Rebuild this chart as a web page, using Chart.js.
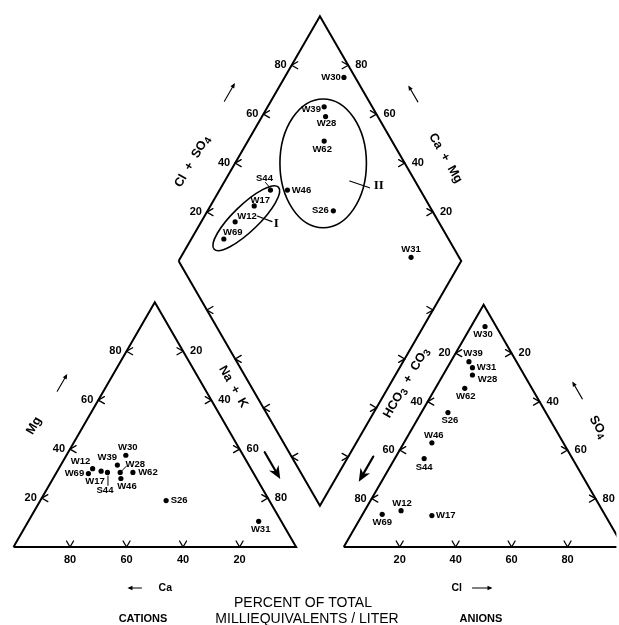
<!DOCTYPE html>
<html>
<head>
<meta charset="utf-8">
<script src="https://cdn.jsdelivr.net/npm/chart.js@4/dist/chart.umd.min.js"></script>
<style>
  html, body { margin: 0; padding: 0; background: #fff; }
  #wrap { width: 619px; height: 625px; }
</style>
</head>
<body>
<div id="wrap"><canvas id="piper" width="619" height="625"></canvas></div>
<script>
// Water samples
const samples = ['W12', 'W17', 'W28', 'W30', 'W31', 'W39', 'W46', 'W62', 'W69', 'S26', 'S44'];
// Cations, percent of total milliequivalents per liter
const calcium         = [56, 53.5, 47, 41.5, 8, 46.5, 48, 42.5, 58.5, 36.5, 51.5];
const magnesium       = [32, 31, 30.5, 37.5, 10.5, 33.5, 28, 30.5, 30, 19, 30.5];
const sodiumPotassium = [12, 15.5, 22.5, 21, 81.5, 20, 24, 27, 11.5, 44.5, 18];
// Anions, percent of total milliequivalents per liter
const bicarbonate = [72, 62, 18.5, 4, 17, 17, 47, 24, 79.5, 35, 53];
const sulfate     = [15, 13, 71, 91, 74, 76.5, 43, 65.5, 13.5, 55.5, 36.5];
const chloride    = [13, 25, 10.5, 5, 9, 6.5, 10, 10.5, 7, 9.5, 10.5];
// Graduations on every side
const tickValues = [20, 40, 60, 80];

// ---- layout of the trilinear frames (plot units, triangle side = 100) ----
const SIDE = 100, GAP = 16.85, ANION_SIDE = 99;
const H = Math.sqrt(3) / 2;
const PX_PER_UNIT = 2.85, ORIGIN_X = 11, ORIGIN_Y = 549, W = 619, HT = 625;
const cationFrame = { x0: 0, side: SIDE };
const anionFrame = { x0: SIDE + GAP, side: ANION_SIDE };
const dBottom = { x: SIDE + GAP / 2, y: GAP / 2 * Math.sqrt(3) };
const dLeft = { x: dBottom.x - SIDE / 2, y: dBottom.y + SIDE * H };

// right = share toward the right corner, top = share toward the apex
function ternary(frame, right, top) {
  return { x: frame.x0 + frame.side * (right + top / 2) / 100, y: frame.side * H * top / 100 };
}
// n = Na + K share, a = Cl + SO4 share
function diamond(n, a) {
  return { x: dLeft.x + (a + n) / 100 * SIDE / 2, y: dLeft.y + (a - n) / 100 * SIDE * H };
}

const C0 = ternary(cationFrame, 0, 0), C1 = ternary(cationFrame, 100, 0), C2 = ternary(cationFrame, 0, 100);
const A0 = ternary(anionFrame, 0, 0), A1 = ternary(anionFrame, 100, 0), A2 = ternary(anionFrame, 0, 100);
const DL = diamond(0, 0), DT = diamond(0, 100), DR = diamond(100, 100), DB = diamond(100, 0);
const cCent = ternary(cationFrame, 33.3, 33.3), aCent = ternary(anionFrame, 33.3, 33.3), dCent = diamond(50, 50);

const cationPts = samples.map((s, i) => ternary(cationFrame, sodiumPotassium[i], magnesium[i]));
const anionPts = samples.map((s, i) => ternary(anionFrame, chloride[i], sulfate[i]));
const diamondPts = samples.map((s, i) => diamond(sodiumPotassium[i], chloride[i] + sulfate[i]));

// label placement around each dot, in pixels
const labelOffsets = {
  cation: { W30: [2, -8], W39: [-10, -8], W28: [15, -8], W62: [15, 0], W46: [6, 7.5], W12: [-12, -7],
            W69: [-14, 0], W17: [-6, 10], S44: [-2.5, 18], S26: [13, 0], W31: [2, 8] },
  anion: { W30: [-2, 7.5], W39: [4, -8], W31: [14, 0], W28: [15, 4], W62: [1, 8], S26: [2, 8],
           W46: [2, -7], S44: [0, 9], W12: [1, -7], W69: [0, 8.5], W17: [14, 0] },
  diamond: { W30: [-13, 0], W39: [-13, 3], W28: [1, 7], W62: [-2, 8], W46: [14, 0], S26: [-13, 0],
             S44: [-6, -12], W17: [6, -6], W12: [12, -5.5], W69: [9, -7], W31: [0, -8] }
};
const leaders = {
  cation: { W28: [[1.5, -1.5], [6, -6]], S44: [[0.5, 3.5], [0.5, 13]] },
  anion: {},
  diamond: { S44: [[-5, -7.5], [-0.8, -2.8]] }
};

// sample groups outlined on the diamond
const groups = [
  { name: 'I', n: 15.2, a: 32.7, rx: 15.8, ry: 4.6, rot: -44,
    label: { n: 26.9, a: 42.3 }, leader: [{ n: 18.6, a: 37.0 }, { n: 25.0, a: 41.1 }] },
  { name: 'II', n: 31.2, a: 71.1, rx: 15.3, ry: 22.8, rot: 0,
    label: { n: 55.5, a: 86.1 }, leader: [{ n: 44.2, a: 76.9 }, { n: 52.6, a: 82.5 }] }
];

const FONT = '"Liberation Sans", Arial, Helvetica, sans-serif';

const edges = [
  { a: C1, b: C0, c: cCent, label: 'below' },
  { a: C0, b: C2, c: cCent, label: 'left' },
  { a: C2, b: C1, c: cCent, label: 'right' },
  { a: A0, b: A1, c: aCent, label: 'below' },
  { a: A2, b: A0, c: aCent, label: 'left' },
  { a: A2, b: A1, c: aCent, label: 'right' },
  { a: DL, b: DT, c: dCent, label: 'left' },
  { a: DR, b: DT, c: dCent, label: 'right' },
  { a: DL, b: DB, c: dCent, label: null },
  { a: DR, b: DB, c: dCent, label: null }
];

const titles = [
  { edge: [C0, C2, cCent], t: 0.408, off: 42.8, rot: -60, parts: [['Mg']] },
  { edge: [DL, DB, dCent], t: 0.482, off: 15.5, rot: 60, parts: [['Na  +  K']] },
  { edge: [DL, DT, dCent], t: 0.329, off: 38, rot: -60, parts: [['Cl  +  SO'], ['4', 1]] },
  { edge: [DT, DR, dCent], t: 0.657, off: 37.9, rot: 60, parts: [['Ca  +  Mg']] },
  { edge: [DR, DB, dCent], t: 0.471, off: 13.2, rot: -60, parts: [['HCO'], ['3', 1], ['  +  CO'], ['3', 1]] },
  { edge: [A2, A1, aCent], t: 0.583, off: 38.1, rot: 60, parts: [['SO'], ['4', 1]] },
  { edge: [C0, C1, cCent], t: 0.537, off: 41, rot: 0, parts: [['Ca']], size: 10.5 },
  { edge: [A0, A1, aCent], t: 0.404, off: 41, rot: 0, parts: [['Cl']], size: 10.5 }
];

const arrows = [
  { edge: [C0, C2, cCent], t: 0.59, off: 40, len: 20, dir: 1 },
  { edge: [DL, DT, dCent], t: 0.608, off: 40.3, len: 21, dir: 1 },
  { edge: [DT, DR, dCent], t: 0.402, off: 42, len: 19, dir: -1 },
  { edge: [A2, A1, aCent], t: 0.432, off: 38.4, len: 20, dir: -1 },
  { edge: [DL, DB, dCent], t: 0.793, off: 21, len: 31, dir: 1, bold: true },
  { edge: [DR, DB, dCent], t: 0.806, off: 21.6, len: 29, dir: 1, bold: true },
  { edge: [C0, C1, cCent], t: 0.428, off: 41, len: 14, dir: -1 },
  { edge: [A0, A1, aCent], t: 0.496, off: 41, len: 20, dir: 1 }
];

const decor = {
  id: 'piperDecor',
  afterDatasetsDraw(chart) {
    const ctx = chart.ctx, xs = chart.scales.x, ys = chart.scales.y;
    const P = u => ({ x: xs.getPixelForValue(u.x), y: ys.getPixelForValue(u.y) });
    const unitPx = xs.getPixelForValue(1) - xs.getPixelForValue(0);

    function geom(a, b, c) {
      const pa = P(a), pb = P(b), pc = P(c);
      const dx = pb.x - pa.x, dy = pb.y - pa.y, len = Math.hypot(dx, dy);
      const ux = dx / len, uy = dy / len;
      let nx = -uy, ny = ux;
      const mx = (pa.x + pb.x) / 2, my = (pa.y + pb.y) / 2;
      if ((pc.x - mx) * nx + (pc.y - my) * ny > 0) { nx = -nx; ny = -ny; }
      return { ux, uy, nx, ny, at(t, off = 0) { return { x: pa.x + dx * t + nx * off, y: pa.y + dy * t + ny * off }; } };
    }

    ctx.save();
    ctx.strokeStyle = '#000';
    ctx.fillStyle = '#000';
    ctx.lineCap = 'round';

    // graduation chevrons and their numbers
    const arm = 7, s30 = 0.5, c30 = Math.sqrt(3) / 2;
    edges.forEach(e => {
      const g = geom(e.a, e.b, e.c);
      tickValues.forEach(v => {
        const p = g.at(v / 100);
        ctx.lineWidth = 1.3;
        ctx.beginPath();
        if (Math.abs(g.uy) < 0.01) {
          const sy = -Math.sign(g.ny);
          ctx.moveTo(p.x - arm * s30, p.y + sy * arm * c30);
          ctx.lineTo(p.x, p.y);
          ctx.lineTo(p.x + arm * s30, p.y + sy * arm * c30);
        } else {
          const sx = -Math.sign(g.nx);
          ctx.moveTo(p.x + sx * arm * c30, p.y - arm * s30);
          ctx.lineTo(p.x, p.y);
          ctx.lineTo(p.x + sx * arm * c30, p.y + arm * s30);
        }
        ctx.stroke();
        if (!e.label) return;
        ctx.font = 'bold 11px ' + FONT;
        ctx.textBaseline = 'middle';
        if (e.label === 'below') { ctx.textAlign = 'center'; ctx.fillText(String(v), p.x, p.y + 12.5); }
        else if (e.label === 'left') { ctx.textAlign = 'right'; ctx.fillText(String(v), p.x - 5, p.y); }
        else { ctx.textAlign = 'left'; ctx.fillText(String(v), p.x + 7, p.y); }
      });
    });

    // side titles, with lowered digits for the ion formulas
    titles.forEach(tt => {
      const g = geom(tt.edge[0], tt.edge[1], tt.edge[2]);
      const p = g.at(tt.t, tt.off);
      const size = tt.size || 12.5;
      const main = 'bold ' + size + 'px ' + FONT, sub = 'bold ' + (size * 0.8) + 'px ' + FONT;
      ctx.save();
      ctx.translate(p.x, p.y);
      ctx.rotate(tt.rot * Math.PI / 180);
      let w = 0;
      tt.parts.forEach(pt => { ctx.font = pt[1] ? sub : main; w += ctx.measureText(pt[0]).width; });
      let cx = -w / 2;
      ctx.textAlign = 'left';
      ctx.textBaseline = 'middle';
      tt.parts.forEach(pt => {
        ctx.font = pt[1] ? sub : main;
        ctx.fillText(pt[0], cx, pt[1] ? size * 0.28 : 0);
        cx += ctx.measureText(pt[0]).width;
      });
      ctx.restore();
    });

    // direction arrows
    arrows.forEach(ar => {
      const g = geom(ar.edge[0], ar.edge[1], ar.edge[2]);
      const c = g.at(ar.t, ar.off);
      const ux = g.ux * ar.dir, uy = g.uy * ar.dir;
      const x1 = c.x - ux * ar.len / 2, y1 = c.y - uy * ar.len / 2;
      const x2 = c.x + ux * ar.len / 2, y2 = c.y + uy * ar.len / 2;
      const nx = -uy, ny = ux;
      if (ar.bold) {
        const hl = 13, hw = 5.5, notch = 9;
        ctx.lineWidth = 2.2;
        ctx.beginPath(); ctx.moveTo(x1, y1); ctx.lineTo(x2 - ux * notch, y2 - uy * notch); ctx.stroke();
        ctx.beginPath();
        ctx.moveTo(x2, y2);
        ctx.lineTo(x2 - ux * hl + nx * hw, y2 - uy * hl + ny * hw);
        ctx.lineTo(x2 - ux * notch, y2 - uy * notch);
        ctx.lineTo(x2 - ux * hl - nx * hw, y2 - uy * hl - ny * hw);
        ctx.closePath(); ctx.fill();
      } else {
        const hl = 5, hw = 2.2;
        ctx.lineWidth = 1.1;
        ctx.beginPath(); ctx.moveTo(x1, y1); ctx.lineTo(x2 - ux * 2, y2 - uy * 2); ctx.stroke();
        ctx.beginPath();
        ctx.moveTo(x2, y2);
        ctx.lineTo(x2 - ux * hl + nx * hw, y2 - uy * hl + ny * hw);
        ctx.lineTo(x2 - ux * hl - nx * hw, y2 - uy * hl - ny * hw);
        ctx.closePath(); ctx.fill();
      }
    });

    // sample names and leader lines
    const panels = { cation: cationPts, anion: anionPts, diamond: diamondPts };
    ctx.font = 'bold 9.5px ' + FONT;
    ctx.textAlign = 'center';
    ctx.textBaseline = 'middle';
    Object.keys(panels).forEach(key => {
      panels[key].forEach((u, i) => {
        const p = P(u), name = samples[i];
        const o = labelOffsets[key][name] || [0, -8];
        ctx.fillText(name, p.x + o[0], p.y + o[1]);
        const ld = leaders[key][name];
        if (ld) {
          ctx.lineWidth = 1;
          ctx.beginPath();
          ctx.moveTo(p.x + ld[0][0], p.y + ld[0][1]);
          ctx.lineTo(p.x + ld[1][0], p.y + ld[1][1]);
          ctx.stroke();
        }
      });
    });

    // grouping ellipses with roman numerals
    groups.forEach(gr => {
      const c = P(diamond(gr.n, gr.a));
      ctx.lineWidth = 1.6;
      ctx.beginPath();
      ctx.ellipse(c.x, c.y, gr.rx * unitPx, gr.ry * unitPx, gr.rot * Math.PI / 180, 0, Math.PI * 2);
      ctx.stroke();
      const l0 = P(diamond(gr.leader[0].n, gr.leader[0].a)), l1 = P(diamond(gr.leader[1].n, gr.leader[1].a));
      ctx.lineWidth = 1.1;
      ctx.beginPath(); ctx.moveTo(l0.x, l0.y); ctx.lineTo(l1.x, l1.y); ctx.stroke();
      const lp = P(diamond(gr.label.n, gr.label.a));
      ctx.font = 'bold 13px "Liberation Serif", "Times New Roman", serif';
      ctx.textAlign = 'center';
      ctx.textBaseline = 'middle';
      ctx.fillText(gr.name, lp.x, lp.y);
    });

    // captions under the diagram
    ctx.textAlign = 'center';
    ctx.textBaseline = 'middle';
    ctx.font = '14px ' + FONT;
    ctx.fillText('PERCENT OF TOTAL', 303, 603);
    ctx.fillText('MILLIEQUIVALENTS / LITER', 307, 619);
    ctx.font = 'bold 11px ' + FONT;
    ctx.fillText('CATIONS', 143, 619);
    ctx.fillText('ANIONS', 481, 619);
    ctx.restore();
  }
};

function outline(pts) {
  return { data: pts, showLine: true, borderColor: '#000', borderWidth: 2, pointRadius: 0,
           fill: false, tension: 0, borderJoinStyle: 'miter', order: 2 };
}
function dots(pts) {
  return { data: pts, showLine: false, pointRadius: 2.6, pointHoverRadius: 2.6, pointBackgroundColor: '#000',
           pointBorderWidth: 0, pointBorderColor: '#000', order: 1 };
}

new Chart(document.getElementById('piper'), {
  type: 'scatter',
  data: {
    datasets: [
      outline([C0, C1, C2, C0]),
      outline([A0, A1, A2, A0]),
      outline([DL, DT, DR, DB, DL]),
      dots(cationPts),
      dots(anionPts),
      dots(diamondPts)
    ]
  },
  options: {
    responsive: false,
    animation: false,
    devicePixelRatio: 1,
    layout: { padding: 0 },
    scales: {
      x: { type: 'linear', display: false, min: -ORIGIN_X / PX_PER_UNIT, max: (W - ORIGIN_X) / PX_PER_UNIT },
      y: { type: 'linear', display: false, min: -(HT - ORIGIN_Y) / PX_PER_UNIT, max: ORIGIN_Y / PX_PER_UNIT }
    },
    plugins: { legend: { display: false }, tooltip: { enabled: false } },
    events: []
  },
  plugins: [decor]
});
</script>
</body>
</html>
